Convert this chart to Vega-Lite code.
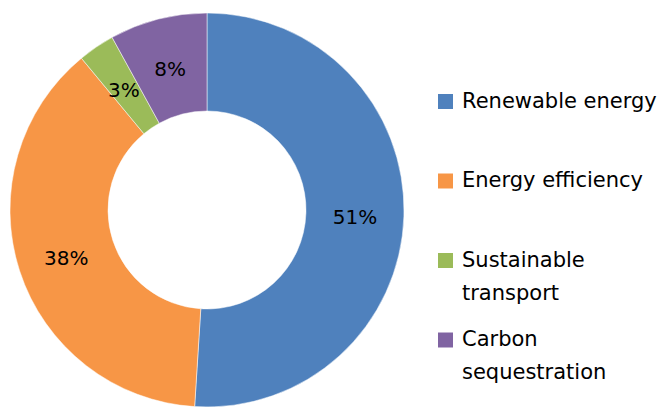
{
  "$schema": "https://vega.github.io/schema/vega-lite/v6.json",
  "width": 414,
  "height": 394,
  "autosize": {"type": "none"},
  "padding": {"left": 0, "top": 13, "right": 247, "bottom": 0},
  "background": "white",
  "config": {
    "view": {"stroke": null},
    "style": {"guide-label": {"lineHeight": 33}}
  },
  "data": {
    "values": [
      {"category": "Renewable energy", "value": 51, "label": "51%", "order": 1},
      {"category": "Energy efficiency", "value": 38, "label": "38%", "order": 2},
      {"category": "Sustainable transport", "value": 3, "label": "3%", "order": 3},
      {"category": "Carbon sequestration", "value": 8, "label": "8%", "order": 4}
    ]
  },
  "encoding": {
    "theta": {"field": "value", "type": "quantitative", "stack": true},
    "order": {"field": "order", "type": "quantitative"}
  },
  "layer": [
    {
      "mark": {"type": "arc", "outerRadius": 197, "innerRadius": 99, "stroke": "white", "strokeWidth": 0.5},
      "encoding": {
        "color": {
          "field": "category",
          "type": "nominal",
          "scale": {
            "domain": ["Renewable energy", "Energy efficiency", "Sustainable transport", "Carbon sequestration"],
            "range": ["#4F81BD", "#F79646", "#9BBB59", "#8064A2"]
          },
          "legend": {
            "orient": "none",
            "legendX": 435,
            "legendY": 78,
            "title": null,
            "padding": 0,
            "symbolType": "square",
            "symbolSize": 225,
            "symbolStrokeWidth": 0,
            "labelFont": "DejaVu Sans",
            "labelFontSize": 21,
            "labelColor": "black",
            "labelLimit": 400,
            "labelOffset": 6,
            "labelBaseline": "middle",
            "rowPadding": 24.5,
            "labelExpr": "datum.label == 'Sustainable transport' ? ['Sustainable', 'transport'] : datum.label == 'Carbon sequestration' ? ['Carbon', 'sequestration'] : [datum.label, '']",
            "encode": {
              "labels": {
                "enter": {"lineHeight": {"value": 33}},
                "update": {"dy": {"value": 16.5}, "lineHeight": {"value": 33}}
              }
            }
          }
        }
      }
    },
    {
      "mark": {"type": "text", "radius": 148, "dy": 3, "font": "DejaVu Sans", "fontSize": 20, "color": "black"},
      "encoding": {
        "text": {"field": "label", "type": "nominal"}
      }
    }
  ]
}
